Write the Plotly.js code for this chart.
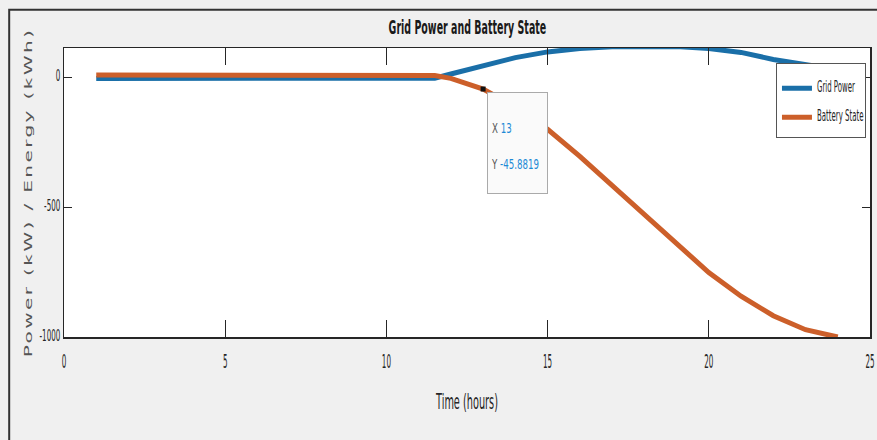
<!DOCTYPE html>
<html><head><meta charset="utf-8">
<script src="https://cdn.plot.ly/plotly-3.0.1.min.js"></script>
<style>
html,body{margin:0;padding:0;background:#f0f0f0;}
#chart{width:877px;height:440px;}
.ytitle{letter-spacing:1.5px;}
</style></head><body><div id="chart"></div>
<script>
// Time (hours)
const hours = [1,2,3,4,5,6,7,8,9,10,11,11.5,12,12.5,13,14,15,16,17,18,19,20,21,22,23,24];
// Grid Power (kW)
const gridPower = [-5,-5,-5,-5,-5,-5,-5,-5,-5,-5,-5,-4,12,28,45,75,97,110,117,120,118,110,95,68,50,28];
// Battery State (kWh)
const batteryState = [8,8,8,8,8,8,8,8,8,8,8,6,-5,-24,-45.8819,-115,-201,-305,-418,-530,-645,-752,-843,-918,-972,-1000];
const xTicks = [0,5,10,15,20,25];
const yTicks = [-1000,-500,0];
const tipHour = 13;
const tipValue = batteryState[hours.indexOf(tipHour)];

const font = '"DejaVu Sans", "Liberation Sans", sans-serif';
const axisColor = '#262626';

const traces = [
  {x: hours, y: gridPower, type: 'scatter', mode: 'lines', name: 'Grid Power',
   legendgroup: 'g', line: {color: '#1a6fa8', width: 5}},
  {x: hours, y: batteryState, type: 'scatter', mode: 'lines', name: 'Battery State',
   legendgroup: 'b', line: {color: '#cc5f2a', width: 5}},
  {x: [tipHour], y: [tipValue], type: 'scatter', mode: 'markers', showlegend: false,
   marker: {symbol: 'square', size: 5, color: '#111'}, hoverinfo: 'skip'}
];

const layout = {
  width: 877, height: 440,
  paper_bgcolor: '#f0f0f0', plot_bgcolor: '#ffffff',
  margin: {l: 64, r: 7, t: 48, b: 103},
  title: {text: 'Grid Power and Battery State', x: 0.533, xanchor: 'center',
          y: 0.938, yanchor: 'middle', yref: 'container',
          font: {family: font, size: 13, color: '#1a1a1a', weight: 'bold'}},
  xaxis: {range: [0, 25], tickvals: xTicks, ticktext: xTicks.map(String),
          ticks: 'inside', ticklen: 17, tickcolor: axisColor, tickwidth: 1,
          showline: true, linecolor: axisColor, linewidth: 1.5, mirror: 'ticks',
          showgrid: false, zeroline: false, ticklabelstandoff: 15, ticklabeloverflow: 'allow',
          tickfont: {family: font, size: 12, color: axisColor},
          title: {text: 'Time (hours)', standoff: 30, font: {family: font, size: 13, color: axisColor}}},
  yaxis: {range: [-1000, 112], tickvals: yTicks, ticktext: yTicks.map(String),
          ticks: 'inside', ticklen: 8, tickcolor: axisColor, tickwidth: 1,
          showline: true, linecolor: axisColor, linewidth: 1.5, mirror: 'ticks',
          showgrid: false, zeroline: false,
          tickfont: {family: font, size: 11, color: axisColor},
          title: {text: 'Power (kW) / Energy (kWh)', standoff: 4,
                  font: {family: font, size: 13, color: '#555'}}},
  showlegend: true,
  legend: {x: 0.995, xanchor: 'right', y: 0.9146, yanchor: 'top',
           bgcolor: '#ffffff', bordercolor: '#555', borderwidth: 1,
           traceorder: 'grouped', tracegroupgap: 10, itemwidth: 30,
           font: {family: font, size: 10, color: axisColor}},
  annotations: [{
    x: tipHour, y: tipValue, xref: 'x', yref: 'y', showarrow: false,
    xanchor: 'left', yanchor: 'top', xshift: 4, yshift: -3,
    align: 'left', valign: 'middle', width: 90, height: 94, borderpad: 3,
    bgcolor: '#fafafa', bordercolor: '#aaaaaa', borderwidth: 1,
    font: {family: font, size: 14, color: '#555'},
    text: '<span style="color:#555">X </span><span style="color:#1e8ad6">' + tipHour +
          '</span><br><br><span style="color:#555">Y </span><span style="color:#1e8ad6">' + tipValue + '</span>'
  }],
  shapes: [{type: 'rect', xref: 'paper', yref: 'paper', x0: -0.068, x1: 1.3, y0: -1, y1: 1.1325,
            line: {color: '#333', width: 2}, fillcolor: 'rgba(0,0,0,0)', layer: 'below'}]
};

// Reshape text to the tall, narrow look of the reference (text stays real SVG text)
function squash(el, sx, sy, dx, dy) {
  const x = parseFloat(el.getAttribute('x')) || 0;
  const y = parseFloat(el.getAttribute('y')) || 0;
  const tr = el.getAttribute('transform') || '';
  el.setAttribute('transform',
    'translate(' + (dx || 0) + ',' + (dy || 0) + ') ' + tr +
    ' translate(' + x + ',' + y + ') scale(' + sx + ',' + sy + ') translate(' + (-x) + ',' + (-y) + ')');
}
function all(sel, fn) { document.querySelectorAll(sel).forEach(fn); }

Plotly.newPlot('chart', traces, layout, {displayModeBar: false, staticPlot: true}).then(function () {
  all('.gtitle', el => squash(el, 0.73, 1.45));
  all('.xtick text', el => squash(el, 0.6, 1.6));
  all('.ytick text', el => squash(el, 0.65, 1.4));
  all('.xtitle', el => squash(el, 0.75, 1.6));
  all('.ytitle', el => squash(el, 1.55, 0.85, 11, 0));
  all('.legendtext', el => squash(el, 0.7, 1.5));
  all('.annotation-text', el => squash(el, 0.62, 1, 0, 3));
  // datatip box narrowed to the reference width
  all('.annotation rect.bg', el => el.setAttribute('width', 60));
  const lg = document.querySelector('.legend');
  if (lg) {
    const bg = lg.querySelector('rect.bg');
    const oldW = parseFloat(bg.getAttribute('width'));
    const m = /translate\(\s*([-\d.]+)[ ,]+([-\d.]+)\s*\)/.exec(lg.getAttribute('transform') || '');
    if (m) {
      const lx = parseFloat(m[1]), ly = parseFloat(m[2]);
      const newW = 89;
      lg.setAttribute('transform', 'translate(' + (lx + oldW - newW) + ',' + ly + ')');
      bg.setAttribute('width', newW);
      bg.setAttribute('y', -9.5);
      bg.setAttribute('height', 74);
    }
  }
});
</script></body></html>
